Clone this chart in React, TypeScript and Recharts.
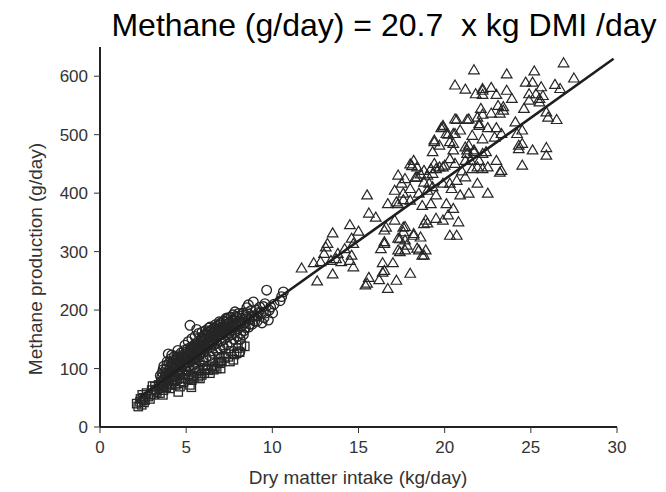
import React from 'react';
import { ScatterChart, Scatter, XAxis, YAxis } from 'recharts';

const xTicks = [0, 5, 10, 15, 20, 25, 30];
const yTicks = [0, 100, 200, 300, 400, 500, 600];

// regression line end points: Methane = 20.7 x kg DMI/day (as drawn)
const lineX = [2.3, 29.8];
const lineY = [51, 630];

const triangles: [number, number][] = [
  [21.7, 611], [23.6, 604], [25.2, 609], [26.9, 623], [27.5, 597], [20.6, 585], [21.2, 578], [21.8, 570],
  [22.2, 576], [22.7, 581], [23.0, 569], [23.6, 576], [23.9, 562], [24.7, 590], [25.1, 590], [25.6, 582],
  [24.9, 570], [25.3, 570], [25.7, 567], [26.4, 586], [26.7, 579], [24.9, 559], [25.5, 556], [24.6, 545],
  [25.9, 539], [26.0, 530], [26.5, 526], [23.1, 550], [23.4, 542], [23.2, 537], [22.1, 545], [22.2, 535],
  [22.7, 537], [21.9, 530], [21.3, 526], [20.7, 526], [19.8, 512], [19.9, 513], [20.2, 501], [20.5, 502],
  [20.9, 508], [22.0, 519], [22.5, 512], [23.0, 512], [24.1, 522], [24.5, 508], [24.2, 502], [21.6, 499],
  [22.2, 493], [22.9, 496], [24.3, 476], [25.1, 474], [25.9, 478], [25.9, 465], [24.5, 448], [23.0, 456],
  [23.2, 436], [19.4, 491], [19.7, 482], [20.3, 488], [20.5, 474], [21.2, 479], [21.3, 468], [21.5, 456],
  [22.2, 468], [22.5, 445], [21.9, 445], [21.6, 442], [19.3, 471], [18.2, 456], [18.0, 450], [18.4, 445],
  [18.8, 439], [19.2, 442], [19.5, 442], [19.9, 445], [20.3, 459], [20.6, 451], [21.0, 438], [21.2, 428],
  [21.9, 417], [22.5, 400], [17.3, 431], [17.7, 425], [18.4, 428], [19.0, 431], [17.1, 405], [17.6, 400],
  [18.0, 408], [18.5, 400], [19.0, 405], [19.3, 411], [19.9, 417], [20.3, 417], [20.7, 422], [16.7, 382],
  [17.3, 382], [18.0, 388], [18.7, 379], [19.2, 382], [19.5, 397], [20.1, 382], [20.4, 408], [20.9, 397],
  [21.4, 400], [15.5, 397], [15.6, 366], [16.0, 359], [16.5, 337], [17.1, 354], [17.6, 334], [18.2, 331],
  [17.7, 320], [18.8, 348], [18.9, 354], [19.5, 357], [19.9, 354], [20.8, 351], [20.5, 374], [20.3, 328],
  [20.7, 328], [14.5, 346], [15.0, 335], [13.5, 332], [14.6, 323], [14.7, 314], [14.2, 305], [13.8, 297],
  [13.0, 297], [13.1, 308], [13.2, 314], [12.4, 281], [12.8, 283], [13.4, 285], [13.7, 288], [13.5, 262],
  [14.0, 283], [14.6, 294], [14.7, 274], [14.5, 285], [11.7, 272], [12.6, 250], [15.4, 243], [15.6, 256],
  [16.2, 252], [16.4, 281], [16.5, 268], [17.0, 281], [17.2, 251], [16.7, 237], [18.0, 263], [15.5, 246],
  [16.4, 265], [16.3, 305], [16.5, 314], [17.3, 323], [17.4, 300], [17.7, 303], [17.8, 311], [18.5, 303],
  [18.9, 303], [18.8, 294], [16.6, 342], [17.6, 342], [17.2, 385], [17.6, 389], [17.5, 417], [18.1, 447],
  [18.3, 427], [18.6, 433], [18.8, 419], [19.1, 417], [19.3, 434], [19.4, 451], [19.7, 445], [20.0, 448],
  [20.5, 485], [19.4, 488], [21.2, 456], [21.3, 474], [21.4, 482], [21.7, 471], [22.0, 456], [22.2, 442],
  [24.5, 485], [17.7, 343], [17.4, 322], [18.2, 328], [18.6, 325], [16.5, 317], [17.3, 303], [18.4, 306],
  [19.0, 349], [20.2, 363], [18.7, 294], [22.2, 579], [23.4, 548], [25.5, 562], [22.2, 569], [24.3, 482],
  [23.3, 439], [22.4, 471], [21.7, 474], [20.6, 527], [21.4, 527], [22.0, 516], [23.3, 502], [19.9, 516],
  [20.1, 502], [20.6, 502],
];

const circles: [number, number][] = [
  [3.55, 78], [3.62, 93], [3.7, 104], [3.78, 86], [3.84, 99], [3.9, 112], [3.96, 125], [4.02, 81],
  [4.05, 91], [4.08, 103], [4.12, 117], [4.16, 123], [4.2, 88], [4.23, 97], [4.27, 109], [4.31, 121],
  [4.37, 86], [4.41, 101], [4.45, 108], [4.48, 119], [4.52, 131], [4.58, 93], [4.63, 104], [4.66, 114],
  [4.71, 127], [4.77, 96], [4.81, 107], [4.85, 119], [4.88, 131], [4.93, 140], [4.98, 99], [5.02, 111],
  [5.05, 121], [5.09, 134], [5.12, 146], [5.15, 103], [5.19, 115], [5.22, 174], [5.25, 127], [5.29, 137],
  [5.33, 151], [5.38, 106], [5.41, 118], [5.45, 130], [5.48, 141], [5.52, 155], [5.57, 109], [5.6, 121],
  [5.61, 167], [5.64, 134], [5.68, 146], [5.72, 160], [5.77, 113], [5.8, 125], [5.83, 139], [5.87, 150],
  [5.91, 162], [5.97, 116], [6.01, 128], [6.04, 141], [6.08, 152], [6.12, 165], [6.16, 119], [6.2, 133],
  [6.23, 145], [6.27, 157], [6.31, 169], [6.36, 122], [6.38, 171], [6.41, 136], [6.45, 149], [6.49, 160],
  [6.55, 126], [6.59, 140], [6.62, 152], [6.66, 164], [6.7, 175], [6.75, 131], [6.79, 143], [6.83, 156],
  [6.87, 168], [6.92, 180], [6.96, 177], [6.98, 134], [7.02, 147], [7.06, 158], [7.1, 171], [7.16, 137],
  [7.2, 150], [7.24, 163], [7.28, 175], [7.33, 184], [7.35, 180], [7.38, 141], [7.42, 154], [7.46, 166],
  [7.52, 179], [7.58, 145], [7.62, 158], [7.66, 170], [7.7, 183], [7.76, 150], [7.8, 162], [7.83, 197],
  [7.86, 176], [7.9, 189], [7.97, 155], [8.01, 168], [8.03, 194], [8.06, 181], [8.12, 129], [8.16, 160],
  [8.21, 172], [8.25, 186], [8.36, 165], [8.41, 178], [8.46, 191], [8.52, 204], [8.61, 209], [8.63, 171],
  [8.68, 184], [8.84, 176], [8.9, 214], [8.93, 190], [9.12, 181], [9.2, 196], [9.27, 205], [9.48, 206],
  [9.52, 187], [9.57, 211], [9.67, 234], [9.77, 183], [9.82, 200], [10.02, 195], [10.1, 210],
  [10.54, 223], [10.64, 231], [10.45, 216],
  [3.45, 72], [3.58, 85], [3.66, 98], [3.72, 80], [3.81, 92], [3.88, 106], [3.93, 88], [3.99, 97],
  [4.03, 110], [4.09, 84], [4.14, 95], [4.18, 105], [4.24, 114], [4.29, 90], [4.33, 99], [4.39, 113],
  [4.43, 94], [4.47, 104], [4.5, 122], [4.55, 98], [4.6, 110], [4.62, 120], [4.68, 100], [4.73, 112],
  [4.75, 122], [4.79, 104], [4.83, 115], [4.9, 108], [4.95, 118], [4.97, 128], [5.0, 104], [5.07, 116],
  [5.1, 127], [5.14, 110], [5.18, 122], [5.24, 132], [5.27, 113], [5.31, 124], [5.36, 137], [5.4, 114],
  [5.43, 126], [5.47, 135], [5.5, 118], [5.54, 129], [5.59, 142], [5.62, 117], [5.66, 131], [5.7, 140],
  [5.74, 123], [5.79, 134], [5.82, 147], [5.86, 128], [5.89, 140], [5.94, 153], [5.99, 133], [6.03, 146],
  [6.06, 157], [6.1, 136], [6.14, 148], [6.18, 160], [6.22, 139], [6.25, 151], [6.29, 163], [6.33, 144],
  [6.39, 155], [6.43, 165], [6.47, 142], [6.51, 154], [6.53, 167], [6.57, 147], [6.61, 158], [6.64, 170],
  [6.68, 151], [6.72, 162], [6.77, 172], [6.81, 154], [6.85, 165], [6.9, 174], [6.94, 157], [7.0, 166],
  [7.04, 178], [7.08, 160], [7.13, 170], [7.18, 181], [7.22, 163], [7.26, 172], [7.31, 186], [7.36, 166],
  [7.4, 176], [7.44, 187], [7.48, 160], [7.55, 172], [7.6, 188], [7.64, 165], [7.68, 177], [7.72, 192],
  [7.78, 170], [7.84, 184], [7.92, 174], [7.95, 187], [8.04, 176], [8.1, 190], [8.14, 150], [8.18, 180],
  [8.28, 195], [8.32, 158], [8.44, 170], [8.5, 185], [8.56, 196], [8.7, 176], [8.76, 199], [8.82, 189],
  [8.98, 181], [9.05, 200], [9.16, 190], [9.34, 196], [9.4, 178], [9.62, 195], [9.9, 205], [3.5, 88],
  [3.75, 75],
];

const squares: [number, number][] = [
  [2.22, 35], [2.32, 43], [2.13, 40], [2.61, 46], [2.42, 38], [2.8, 52], [3.0, 63], [3.19, 69],
  [3.1, 55], [3.48, 58], [3.68, 63], [4.06, 66], [4.35, 80], [4.64, 69], [4.54, 60], [5.22, 72],
  [5.32, 80], [5.8, 83], [5.9, 89], [6.38, 92], [6.28, 97], [6.77, 100], [6.96, 109], [7.54, 112],
  [7.74, 115], [7.93, 126], [6.67, 103], [7.06, 112], [2.9, 48], [3.4, 72], [3.9, 78], [4.2, 85],
  [4.8, 88], [5.0, 95], [5.5, 100], [6.0, 105], [6.5, 115], [7.3, 125], [8.0, 135], [3.6, 70],
  [4.0, 74], [4.7, 78], [5.6, 92], [6.1, 98], [2.5, 50], [3.3, 60], [8.2, 140], [7.6, 130],
  [6.9, 120], [5.4, 88], [4.4, 72],
  [2.35, 48], [2.55, 42], [2.7, 58], [2.95, 56], [3.05, 70], [3.25, 64], [3.45, 66], [3.55, 76],
  [3.75, 70], [3.85, 68], [4.15, 72], [4.25, 78], [4.5, 82], [4.85, 76], [4.95, 84], [5.1, 82],
  [5.15, 90], [5.45, 84], [5.7, 86], [5.75, 96], [6.05, 92], [6.2, 100], [6.45, 104], [6.6, 98],
  [6.85, 110], [7.2, 118], [7.45, 120], [7.8, 124], [8.1, 128], [8.4, 138], [7.0, 100], [5.3, 68],
  [3.65, 55], [2.45, 55],
];

const toData = (arr: [number, number][]) => arr.map(([x, y]) => ({ x, y }));
const triData = toData(triangles);
const circData = toData(circles);
const sqData = toData(squares);
const lineData = lineX.map((x, i) => ({ x, y: lineY[i] }));

const STROKE = '#262626';

const Tri = (p: any) => {
  const { cx, cy } = p;
  if (cx == null || cy == null) return <g />;
  return (
    <path
      d={`M${cx},${cy - 5}L${cx + 5.3},${cy + 4}L${cx - 5.3},${cy + 4}Z`}
      fill="none"
      stroke={STROKE}
      strokeWidth={1.2}
    />
  );
};
const Circ = (p: any) => {
  const { cx, cy } = p;
  if (cx == null || cy == null) return <g />;
  return <circle cx={cx} cy={cy} r={4.8} fill="none" stroke={STROKE} strokeWidth={1.35} />;
};
const Sq = (p: any) => {
  const { cx, cy } = p;
  if (cx == null || cy == null) return <g />;
  return <rect x={cx - 4.2} y={cy - 4.2} width={8.4} height={8.4} fill="none" stroke={STROKE} strokeWidth={1.3} />;
};
const NoShape = () => <g />;

const font = "'Liberation Sans', Arial, sans-serif";

export default function App() {
  return (
    <div style={{ position: 'absolute', left: 0, top: 0, width: 666, height: 492, background: '#fff', fontFamily: font }}>
      <ScatterChart width={666} height={492} margin={{ top: 47, right: 49, bottom: 5, left: 10 }}>
        <XAxis
          type="number"
          dataKey="x"
          domain={[0, 30]}
          ticks={xTicks}
          interval={0}
          height={60}
          axisLine={{ stroke: '#222', strokeWidth: 2 }}
          tickLine={{ stroke: '#333' }}
          tickSize={6}
          tickMargin={8}
          tick={{ fill: '#333', fontSize: 17, fontFamily: font }}
          allowDataOverflow
        />
        <YAxis
          type="number"
          dataKey="y"
          domain={[0, 650]}
          ticks={yTicks}
          interval={0}
          width={90}
          axisLine={{ stroke: '#222', strokeWidth: 2 }}
          tickLine={{ stroke: '#333' }}
          tickSize={6}
          tickMargin={6}
          tick={{ fill: '#333', fontSize: 17, fontFamily: font }}
          allowDataOverflow
        />
        <Scatter data={triData} shape={Tri} isAnimationActive={false} />
        <Scatter data={circData} shape={Circ} isAnimationActive={false} />
        <Scatter data={sqData} shape={Sq} isAnimationActive={false} />
        <Scatter
          data={lineData}
          shape={NoShape}
          line={{ stroke: '#1e1e1e', strokeWidth: 2.6 }}
          lineType="joint"
          isAnimationActive={false}
        />
      </ScatterChart>
      <div
        style={{
          position: 'absolute', left: 384, top: 9, transform: 'translateX(-50%)',
          fontSize: 32, lineHeight: '32px', whiteSpace: 'pre', color: '#000',
        }}
      >
        {'Methane (g/day) = 20.7  x kg DMI /day'}
      </div>
      <div
        style={{
          position: 'absolute', left: 358, top: 468, transform: 'translateX(-50%)',
          fontSize: 19, lineHeight: '19px', whiteSpace: 'nowrap', color: '#333',
        }}
      >
        Dry matter intake (kg/day)
      </div>
      <div
        style={{
          position: 'absolute', left: 35, top: 259, transform: 'translate(-50%, -50%) rotate(-90deg)',
          fontSize: 19, lineHeight: '19px', whiteSpace: 'nowrap', color: '#333',
        }}
      >
        Methane production (g/day)
      </div>
    </div>
  );
}
